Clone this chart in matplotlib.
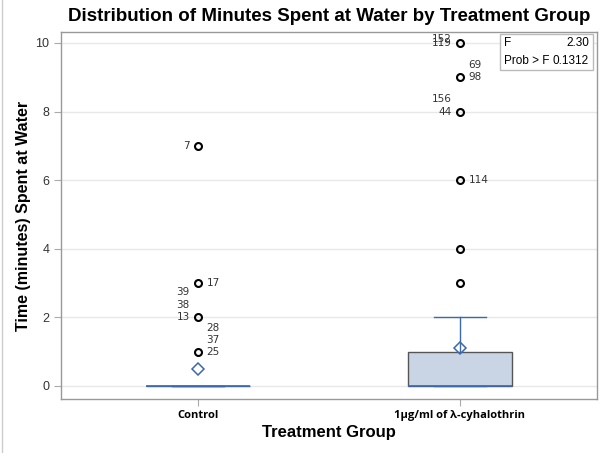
import matplotlib
matplotlib.use("Agg")
import matplotlib.pyplot as plt
from matplotlib.patches import Rectangle

plt.rcParams['font.family'] = ['Liberation Sans', 'DejaVu Sans']

categories = ["Control", "1µg/ml of λ-cyhalothrin"]
q1 = [0, 0]
medians = [0, 0]
q3 = [0, 1]
whisker_low = [0, 0]
whisker_high = [0, 2]
means = [0.5, 1.1]

# outliers: value -> (labels left, stacked upward), (labels right, stacked upward)
control_outliers = [7, 3, 2, 1]
control_labels = {7: (["7"], []), 3: ([], ["17"]), 2: (["13", "38", "39"], []), 1: ([], ["25", "37", "28"])}
treat_outliers = [10, 9, 8, 6, 4, 3]
treat_labels = {9: ([], ["98", "69"]), 8: (["44", "156"], []), 6: ([], ["114"]), 4: ([], []), 3: ([], [])}
treat_overlap = ["119", "152"]  # overlapping labels at 10

f_value = "2.30"
p_value = "0.1312"

fig = plt.figure(figsize=(6.06, 4.53), dpi=100)
ax = fig.add_axes([61/606, 1-399/453, (597-61)/606, (399-32)/453])

blue = "#3D68B0"
stats = []
outl = [control_outliers, treat_outliers]
for i in range(2):
    stats.append(dict(med=medians[i], q1=q1[i], q3=q3[i], whislo=whisker_low[i],
                      whishi=whisker_high[i], mean=means[i], fliers=outl[i], label=categories[i]))

bp = ax.bxp(stats, positions=[0, 1], widths=0.4, patch_artist=True, showmeans=True,
            showcaps=True, showfliers=True, manage_ticks=False,
            boxprops=dict(facecolor="#C9D4E4", edgecolor="#555555", linewidth=1.0),
            medianprops=dict(color=blue, linewidth=1.2),
            whiskerprops=dict(color=blue, linewidth=1.0),
            capprops=dict(color=blue, linewidth=1.0),
            capwidths=0.2,
            meanprops=dict(marker="D", markerfacecolor="none", markeredgecolor=blue,
                           markersize=6, markeredgewidth=1.1),
            flierprops=dict(marker="o", markerfacecolor="none", markeredgecolor="black",
                            markersize=5, markeredgewidth=1.5))
bp['boxes'][0].set_edgecolor(blue)

lab_kw = dict(fontsize=7.5, color="#333333", va="center", fontfamily=["DejaVu Sans"])
for pos, labels in [(0, control_labels), (1, treat_labels)]:
    for val, (left, right) in labels.items():
        for k, t in enumerate(left):
            ax.annotate(t, (pos, val), xytext=(-6, 9 * k), textcoords="offset points", ha="right", **lab_kw)
        for k, t in enumerate(right):
            ax.annotate(t, (pos, val), xytext=(6, 8.5 * k), textcoords="offset points", ha="left", **lab_kw)
for k, t in enumerate(treat_overlap):
    ax.annotate(t, (1, 10), xytext=(-6, 3 * k), textcoords="offset points", ha="right", **lab_kw)

ax.set_xlim(-0.523, 1.523)
ax.set_ylim(-0.38, 10.32)
ax.set_yticks([0, 2, 4, 6, 8, 10])
ax.set_xticks([0, 1])
ax.set_xticklabels(categories, fontsize=8, fontweight="bold", fontfamily=["Open Sans", "DejaVu Sans"])
ax.tick_params(axis="y", labelsize=9, labelcolor="#333333", length=5, width=0.8, color="#aaaaaa")
ax.tick_params(axis="x", length=5, width=0.8, color="#aaaaaa", pad=3)
ax.grid(axis="y", color="#e8e8e8", linewidth=1.0)
ax.set_axisbelow(True)
for s in ax.spines.values():
    s.set_color("#999999")
    s.set_linewidth(1.0)

ax.set_title("Distribution of Minutes Spent at Water by Treatment Group", fontsize=13.5,
             fontweight="bold", pad=8)
ax.set_xlabel("Treatment Group", fontsize=12, fontweight="bold", labelpad=3)
ax.set_ylabel("Time (minutes) Spent at Water", fontsize=11.5, fontweight="bold", labelpad=3)

# inset stats box
bx0, by0 = 500, 34
bx1, by1 = 593, 70
W, H = 606, 453
rect = Rectangle((bx0 / W, 1 - by1 / H), (bx1 - bx0) / W, (by1 - by0) / H,
                 transform=fig.transFigure, facecolor="white", edgecolor="#bbbbbb", linewidth=1.0)
fig.add_artist(rect)
fig.text(504 / W, 1 - 43 / H, "F", fontsize=8.5, va="center", ha="left")
fig.text(589 / W, 1 - 43 / H, f_value, fontsize=8.5, va="center", ha="right")
fig.text(504 / W, 1 - 61 / H, "Prob > F", fontsize=8.5, va="center", ha="left")
fig.text(589 / W, 1 - 61 / H, p_value, fontsize=8.5, va="center", ha="right")

fig.add_artist(plt.Line2D([1.5 / W, 1.5 / W], [0, 1], transform=fig.transFigure, color="#cccccc", linewidth=1))

fig.savefig("out.png", dpi=100)
